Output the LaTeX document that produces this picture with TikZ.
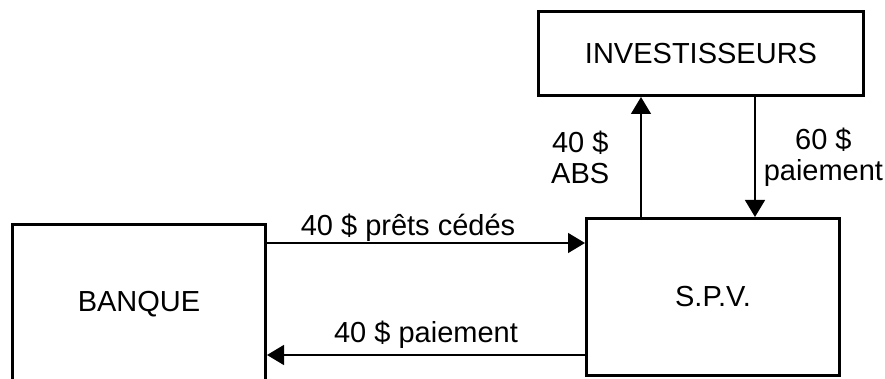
\documentclass[tikz,border=0pt]{standalone}
\usepackage{fontspec}
\setmainfont{Liberation Sans}
\usetikzlibrary{arrows.meta}

\begin{document}
\begin{tikzpicture}[x=1pt, y=-1pt,
    box/.style={draw, line width=3pt, inner sep=0pt},
    flow/.style={line width=1.5pt, -{Triangle[length=17pt, width=20pt]}},
    lbl/.style={inner sep=9pt, align=center}]
    \fontsize{29}{31}\selectfont
    % Fix the page and cut what runs past it
    \useasboundingbox (0,0) rectangle (885,379);
    \clip (0,0) rectangle (885,379);
    % Draw the three parties
    \node[box, minimum width=253pt, minimum height=159pt] (banque) at (139,304) {BANQUE};
    \node[box, minimum width=253pt, minimum height=157pt] (spv) at (713,297) {S.P.V.};
    \node[box, minimum width=325pt, minimum height=84pt] (inv) at (701,53.5) {INVESTISSEURS};
    % Heights and positions of the connectors
    \coordinate (cede) at (400,243);
    \coordinate (remb) at (400,355);
    \coordinate (abs) at (641,150);
    \coordinate (pay) at (755,150);
    % Loans to the S.P.V.
    \draw[flow] (banque.east |- cede) -- (spv.west |- cede)
    node[lbl, midway, above=-8pt, xshift=-18pt] {40 \$ prêts cédés};
    % Payment back to the bank
    \draw[flow] (spv.west |- remb) -- (banque.east |- remb)
    node[lbl, midway, above=-3pt] {40 \$ paiement};
    % Securities to the investors
    \draw[flow] (spv.north -| abs) -- (inv.south -| abs)
    node[lbl, midway, left=22pt] {40 \$\\ABS};
    % Payment from the investors
    \draw[flow] (inv.south -| pay) -- (spv.north -| pay)
    node[lbl, midway, right=-1pt] {60 \$\\paiement};
\end{tikzpicture}
\end{document}
